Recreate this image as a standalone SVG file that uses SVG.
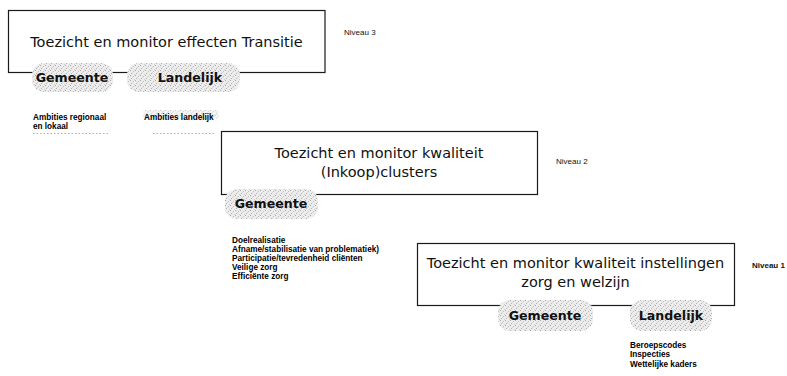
<svg xmlns="http://www.w3.org/2000/svg" width="787" height="376" viewBox="0 0 787 376">
  <defs>
    <pattern id="dither" width="5" height="5" patternUnits="userSpaceOnUse">
      <rect width="5" height="5" fill="#ededed"/>
      <rect x="0" y="0" width="1" height="1" fill="#a6a6a6"/>
      <rect x="3" y="1" width="1" height="1" fill="#bdbdbd"/>
      <rect x="1" y="3" width="1" height="1" fill="#b2b2b2"/>
      <rect x="4" y="4" width="1" height="1" fill="#cfcfcf"/>
      <rect x="2" y="2" width="1" height="1" fill="#d6d6d6"/>
    </pattern>
  </defs>
  <style>
    .box { fill: #ffffff; stroke: #1a1a1a; stroke-width: 1.2; }
    .pill { fill: url(#dither); stroke: none; }
    .title { font-family: "DejaVu Sans", Verdana, sans-serif; font-size: 14.5px; fill: #111; text-anchor: middle; }
    .ptxt { font-family: "DejaVu Sans", Verdana, sans-serif; font-size: 12.6px; font-weight: bold; fill: #111; text-anchor: middle; }
    .lvl { font-family: "Liberation Sans", Arial, sans-serif; font-size: 8px; fill: #111; }
    .small { font-family: "Liberation Sans", Arial, sans-serif; font-size: 8.2px; font-weight: bold; fill: #000; }
    .dots { stroke: #999; stroke-width: 0.8; stroke-dasharray: 1.5 2; fill: none; }
  </style>

  <g id="niveau3">
    <rect class="box" x="8.5" y="10.5" width="316.5" height="62"/>
    <text class="title" x="166.5" y="47">Toezicht en monitor effecten Transitie</text>
    <rect class="pill" x="32" y="63" width="81" height="29" rx="12"/>
    <text class="ptxt" x="72" y="82">Gemeente</text>
    <rect class="pill" x="127" y="63" width="113" height="29" rx="12"/>
    <text class="ptxt" x="190" y="82">Landelijk</text>
    <text class="lvl" x="344" y="35">Niveau 3</text>
  </g>

  <g id="ambities">
    <rect class="pill" x="143" y="110" width="76" height="9" rx="4" opacity="0.6"/>
    <text class="small" x="33" y="120">Ambities regionaal</text>
    <text class="small" x="33" y="129">en lokaal</text>
    <text class="small" x="144" y="120">Ambities landelijk</text>
    <line class="dots" x1="33" y1="133.5" x2="110" y2="133.5"/>
    <line class="dots" x1="153" y1="133.5" x2="215" y2="133.5"/>
  </g>

  <g id="niveau2">
    <rect class="box" x="221.5" y="131.5" width="316" height="63"/>
    <text class="title" x="379" y="158">Toezicht en monitor kwaliteit</text>
    <text class="title" x="379" y="177">(Inkoop)clusters</text>
    <rect class="pill" x="225" y="189" width="93" height="30" rx="12"/>
    <text class="ptxt" x="271" y="208">Gemeente</text>
    <text class="lvl" x="556" y="164">Niveau 2</text>
  </g>

  <g id="lijst2">
    <text class="small" x="232" y="243">Doelrealisatie</text>
    <text class="small" x="232" y="252">Afname/stabilisatie van problematiek)</text>
    <text class="small" x="232" y="261">Participatie/tevredenheid cliënten</text>
    <text class="small" x="232" y="270">Veilige zorg</text>
    <text class="small" x="232" y="279">Efficiënte zorg</text>
  </g>

  <g id="niveau1">
    <rect class="box" x="417.5" y="243.5" width="317" height="62"/>
    <text class="title" x="575.5" y="268">Toezicht en monitor kwaliteit instellingen</text>
    <text class="title" x="575.5" y="287">zorg en welzijn</text>
    <rect class="pill" x="498" y="300" width="95" height="31" rx="12"/>
    <text class="ptxt" x="545" y="320">Gemeente</text>
    <rect class="pill" x="630" y="300" width="82" height="31" rx="12"/>
    <text class="ptxt" x="671" y="320">Landelijk</text>
    <text class="lvl" x="752" y="268" font-weight="bold">Niveau 1</text>
  </g>

  <g id="lijst1">
    <text class="small" x="630" y="348">Beroepscodes</text>
    <text class="small" x="630" y="357">Inspecties</text>
    <text class="small" x="630" y="367">Wettelijke kaders</text>
  </g>

  <g id="connectors"></g>
</svg>
